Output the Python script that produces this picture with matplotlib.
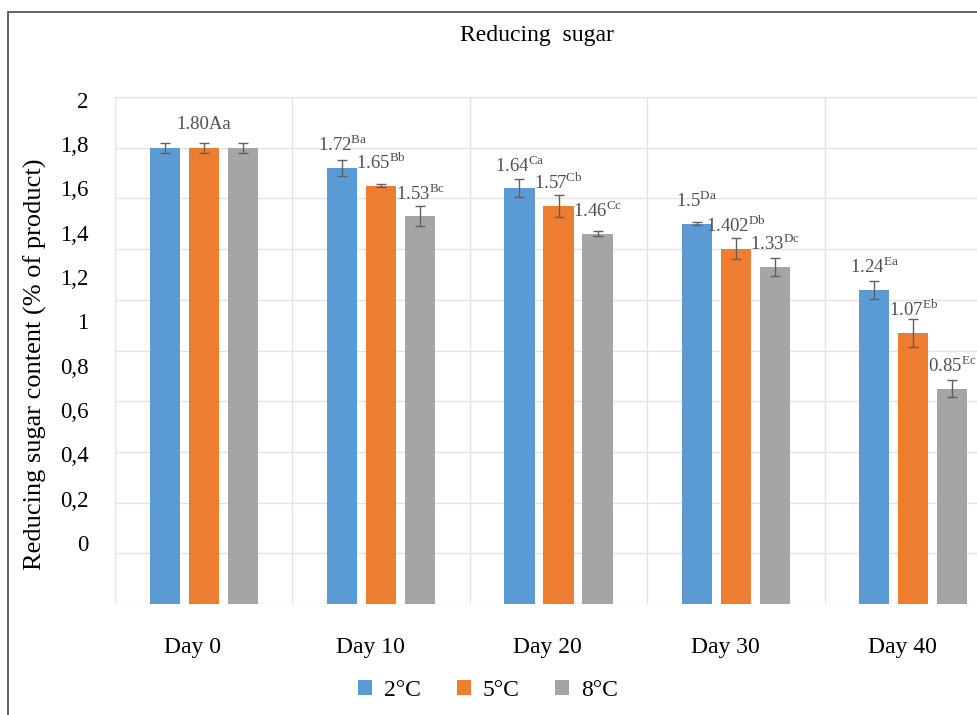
import numpy as np
import matplotlib.pyplot as plt
from matplotlib.patches import Rectangle
from matplotlib.transforms import ScaledTranslation

plt.rcParams['font.family'] = ['Liberation Serif', 'DejaVu Serif']
plt.rcParams['mathtext.fontset'] = 'custom'
plt.rcParams['mathtext.rm'] = 'Liberation Serif'

days = ['Day 0', 'Day 10', 'Day 20', 'Day 30', 'Day 40']
temps = ['2\u00b0C', '5\u00b0C', '8\u00b0C']
colors = ['#5B9BD5', '#ED7D31', '#A5A5A5']

vals_2 = [1.80, 1.72, 1.64, 1.50, 1.24]
vals_5 = [1.80, 1.65, 1.57, 1.402, 1.07]
vals_8 = [1.80, 1.53, 1.46, 1.33, 0.85]

err_2 = [0.02, 0.03, 0.035, 0.005, 0.035]
err_5 = [0.02, 0.005, 0.045, 0.04, 0.055]
err_8 = [0.02, 0.04, 0.01, 0.035, 0.035]

lab_2 = [None, r'1.72$^{\mathrm{Ba}}$', r'1.64$^{\mathrm{Ca}}$', r'1.5$^{\mathrm{Da}}$', r'1.24$^{\mathrm{Ea}}$']
lab_5 = ['1.80Aa', r'1.65$^{\mathrm{Bb}}$', r'1.57$^{\mathrm{Cb}}$', r'1.402$^{\mathrm{Db}}$', r'1.07$^{\mathrm{Eb}}$']
lab_8 = [None, r'1.53$^{\mathrm{Bc}}$', r'1.46$^{\mathrm{Cc}}$', r'1.33$^{\mathrm{Dc}}$', r'0.85$^{\mathrm{Ec}}$']

ytick_labels = ['2', '1,8', '1,6', '1,4', '1,2', '1', '0,8', '0,6', '0,4', '0,2', '0']

fig = plt.figure(figsize=(9.78, 7.15), dpi=100)
ax = fig.add_axes([115/978, 1 - 604/715, 887/978, 507/715])

x = np.arange(len(days))
series = [(vals_2, err_2, lab_2), (vals_5, err_5, lab_5), (vals_8, err_8, lab_8)]
for i, (vals, errs, labs) in enumerate(series):
    pos = x + (i - 1) * 0.22
    ax.bar(pos, vals, 0.17, yerr=errs, color=colors[i], label=temps[i], zorder=3,
           error_kw=dict(ecolor='#606060', elinewidth=1, capsize=3.5, capthick=1))
    for px, v, t in zip(pos, vals, labs):
        if t is None:
            continue
        ax.annotate(t, (px, v), xytext=(0, 23), textcoords='offset pixels',
                    ha='center', va='center', fontsize=13.5, color='#505050', zorder=4)

ax.set_xlim(-0.5, 4.5)
ax.set_ylim(0, 2)

# printed tick labels sit out of step with the gridlines in the original
ax.set_yticks(np.linspace(1.99, 0.24, 11))
ax.set_yticklabels(ytick_labels, fontsize=16.5)
ax.set_yticks(np.arange(0, 2.01, 0.2), minor=True)
ax.set_xticks(x)
ax.set_xticklabels(days, fontsize=17)
ax.set_xticks(np.arange(-0.5, 4.6, 1), minor=True)
ax.tick_params(which='both', length=0)
ax.tick_params(axis='y', pad=19)
ax.tick_params(axis='x', pad=24)
shift = ScaledTranslation(-11/100, 0, fig.dpi_scale_trans)
for lbl in ax.get_xticklabels():
    lbl.set_transform(lbl.get_transform() + shift)
ax.grid(which='minor', color='#e3e3e3', lw=1, zorder=0)
ax.grid(which='major', visible=False)
for s in ax.spines.values():
    s.set_visible(False)

ax.set_ylabel('Reducing sugar content (% of product)', fontsize=19)
ax.yaxis.set_label_coords(-0.077, 0.472)

fig.text(537/978, 1 - 36/715, 'Reducing  sugar', ha='center', va='center', fontsize=17)

fig.legend(loc='center', bbox_to_anchor=(488/978, 1 - 690/715), ncol=3, frameon=False,
           handlelength=0.6, handleheight=0.6, handletextpad=0.5, columnspacing=1.5, fontsize=17)

fig.patches.append(Rectangle((8/978, -0.1), 1.2, (715 - 12)/715 + 0.1, transform=fig.transFigure,
                             fill=False, edgecolor='#555555', lw=1.3))

fig.savefig('out.png', dpi=100)
